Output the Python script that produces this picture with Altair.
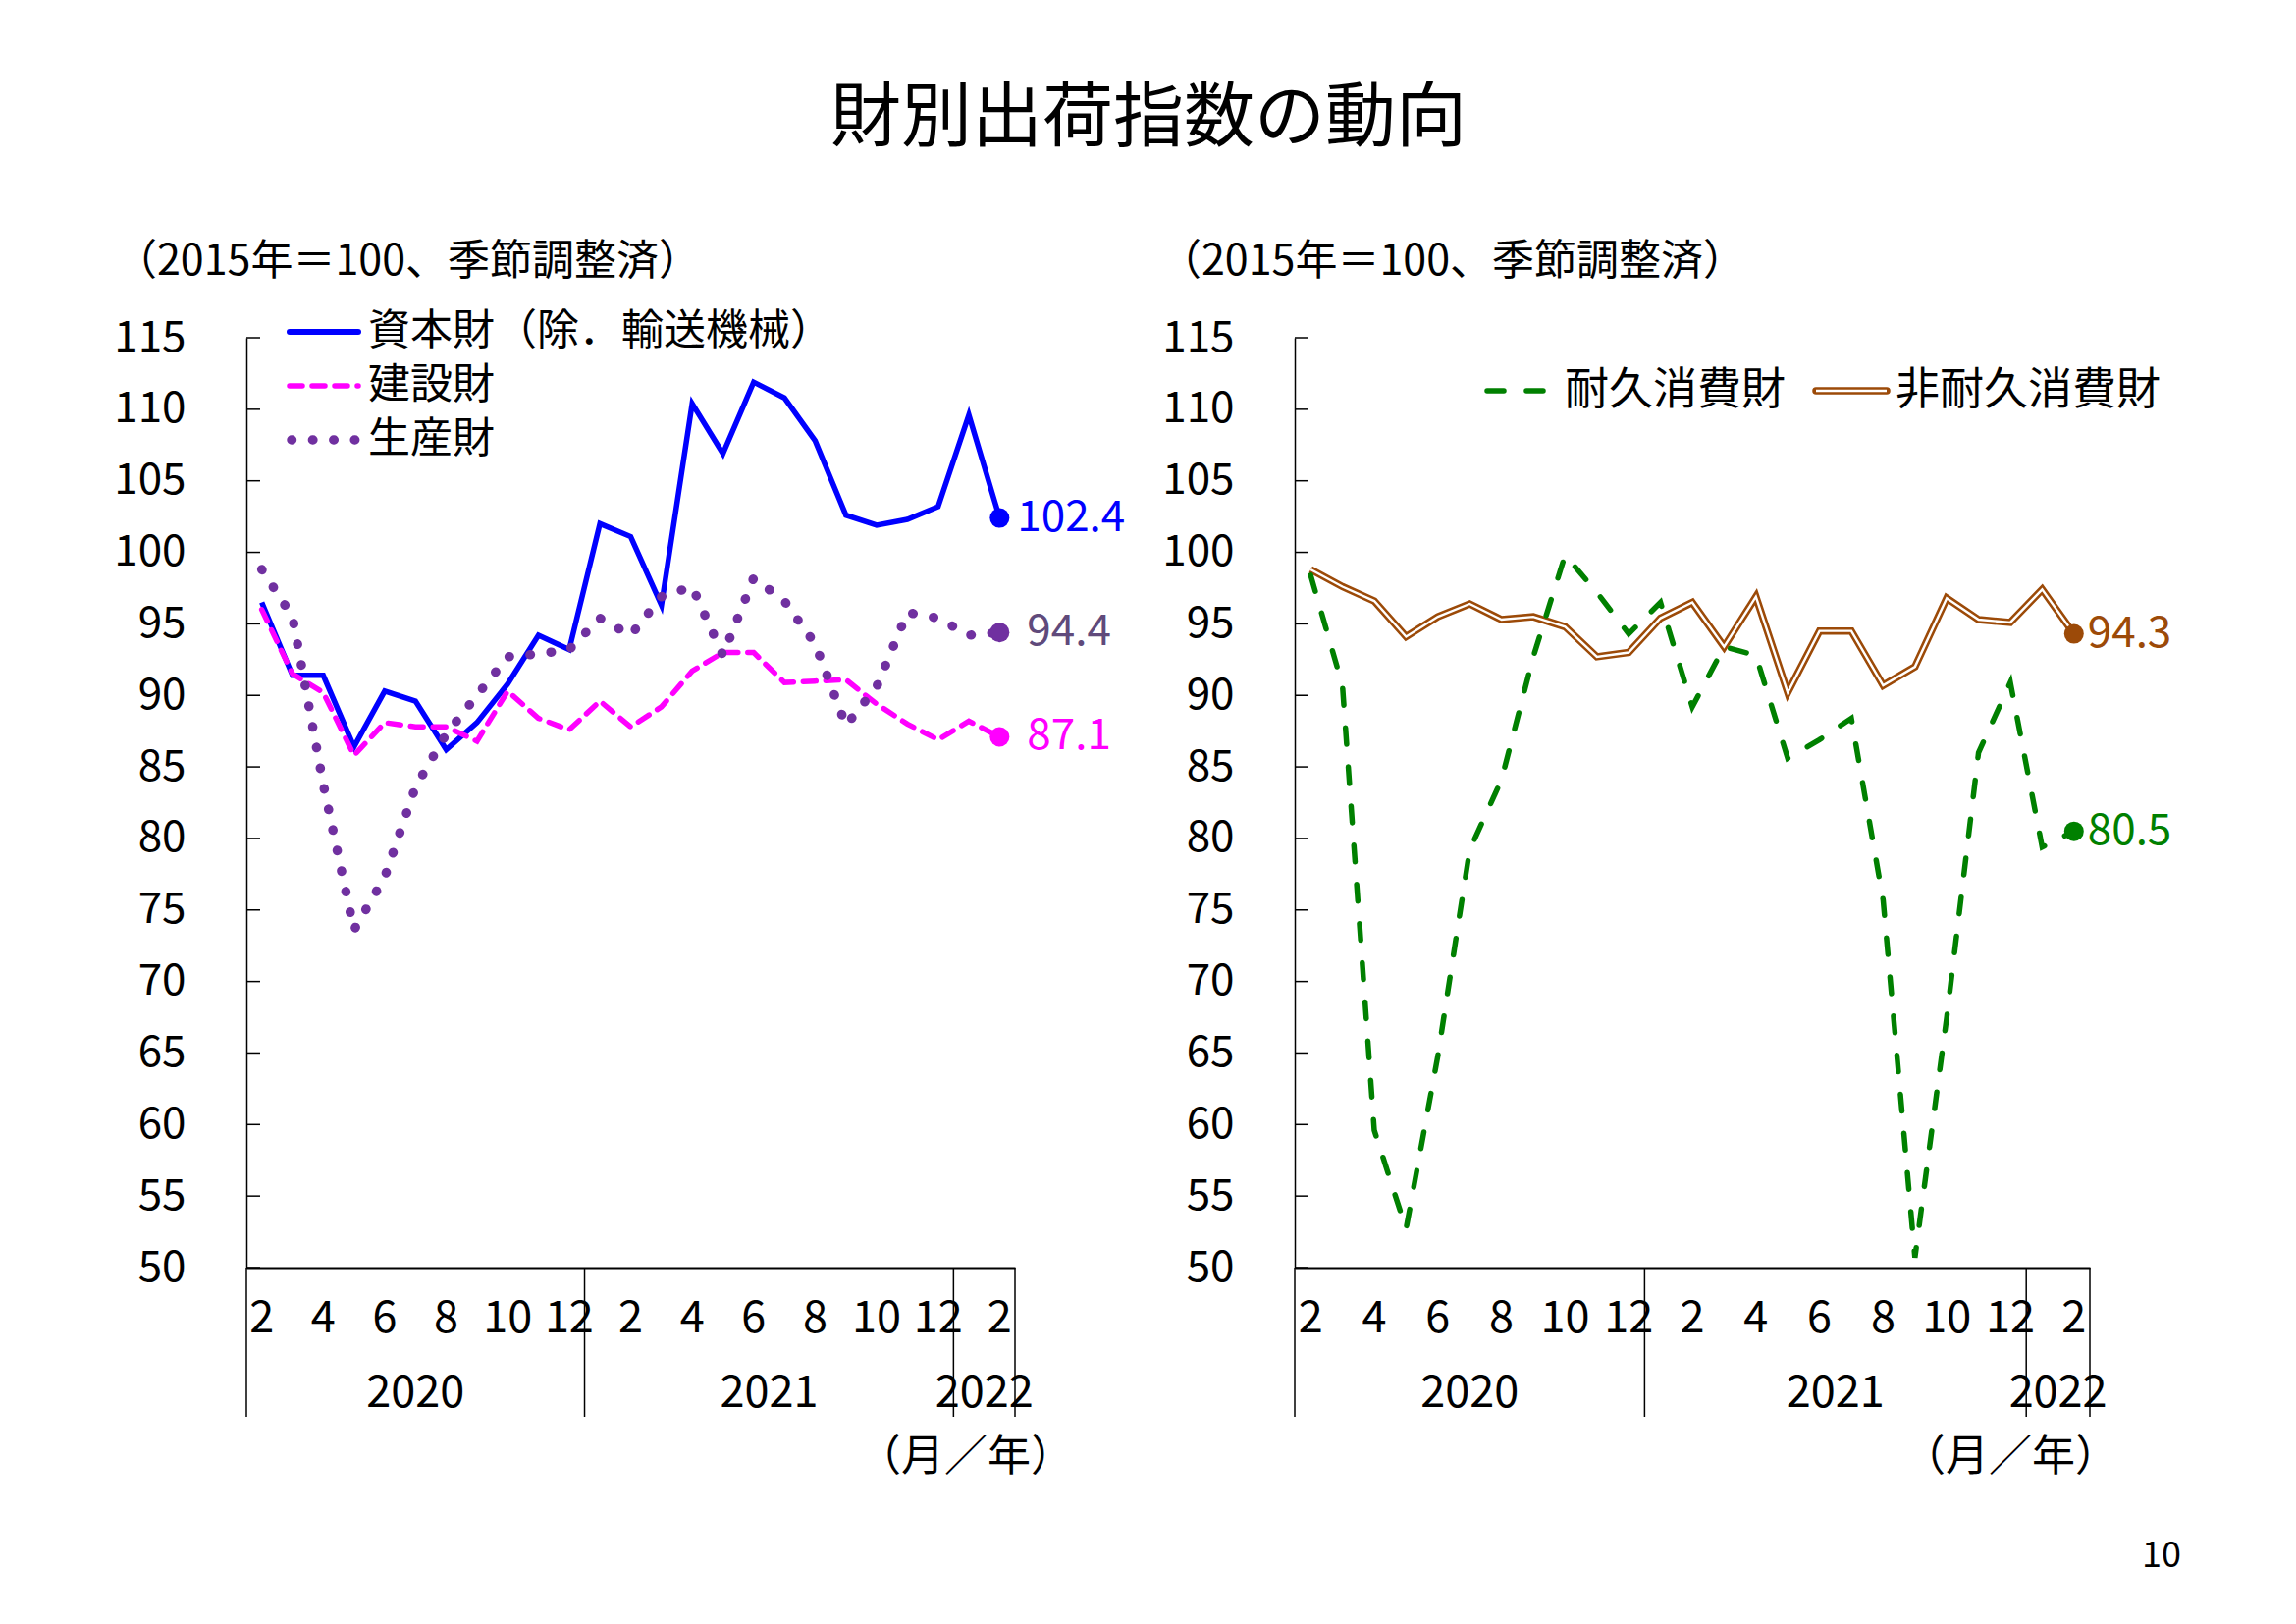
import altair as alt
import pandas as pd

FONT = "Noto Sans CJK JP"

# ---------------- data ----------------
months = [2, 3, 4, 5, 6, 7, 8, 9, 10, 11, 12, 1, 2, 3, 4, 5, 6, 7, 8, 9, 10, 11, 12, 1, 2]
idx = list(range(len(months)))
month_tick_idx = [0, 2, 4, 6, 8, 10, 12, 14, 16, 18, 20, 22, 24]
month_tick_labels = ["2", "4", "6", "8", "10", "12", "2", "4", "6", "8", "10", "12", "2"]
years = ["2020", "2021", "2022"]
year_bounds = [-0.5, 10.5, 22.5, 24.5]
yticks = [50, 55, 60, 65, 70, 75, 80, 85, 90, 95, 100, 105, 110, 115]

capital = [96.5, 91.4, 91.4, 86.4, 90.3, 89.6, 86.2, 88.1, 90.8, 94.2, 93.2, 102.0, 101.1,
           96.3, 110.4, 106.9, 111.9, 110.8, 107.8, 102.6, 101.9, 102.3, 103.2, 109.6, 102.4]
construction = [96.0, 91.5, 90.2, 85.8, 88.1, 87.8, 87.8, 86.8, 90.3, 88.4, 87.6, 89.6, 87.8,
                89.2, 91.7, 93.0, 93.0, 90.9, 91.0, 91.1, 89.4, 88.0, 86.9, 88.2, 87.1]
production = [98.8, 95.5, 83.8, 73.6, 77.3, 83.6, 87.3, 90.0, 92.7, 92.9, 93.2, 95.4, 94.2,
              96.9, 97.6, 92.8, 98.2, 96.6, 93.6, 87.9, 90.6, 95.8, 95.4, 94.2, 94.4]
durable = [98.4, 90.7, 59.6, 52.7, 64.8, 79.2, 84.1, 92.7, 99.8, 97.2, 94.3, 96.5, 89.2,
           93.4, 92.8, 85.6, 86.9, 88.4, 75.7, 50.7, 67.5, 86.0, 90.9, 79.4, 80.5]
nondurable = [98.8, 97.6, 96.6, 94.1, 95.5, 96.4, 95.3, 95.5, 94.8, 92.7, 93.0, 95.4, 96.5,
              93.4, 96.9, 90.2, 94.5, 94.5, 90.7, 92.0, 96.8, 95.3, 95.1, 97.4, 94.3]

title_text = "財別出荷指数の動向"
subtitle_text = "（2015年＝100、季節調整済）"
unit_text = "（月／年）"
legend_left = ["資本財（除．輸送機械）", "建設財", "生産財"]
legend_right = ["耐久消費財", "非耐久消費財"]
page_no = "10"

df = pd.DataFrame({"idx": idx, "month": months, "capital": capital,
                   "construction": construction, "production": production,
                   "durable": durable, "nondurable": nondurable})
last = df.tail(1)
tick_df = pd.DataFrame({"v": yticks})
mlab_df = pd.DataFrame({"idx": month_tick_idx, "lab": month_tick_labels})
sep_df = pd.DataFrame({"pos": year_bounds})
year_df = pd.DataFrame({"year": years,
                        "pos": [(year_bounds[i] + year_bounds[i + 1]) / 2 for i in range(3)]})

# ---------------- layout constants ----------------
W_L, W_R, H, GAP = 783, 810, 947, 285
BLUE, MAG, PURP, PURP_T, BROWN, GREEN = "#0000FF", "#FF00FF", "#7030A0", "#604A7B", "#9C4A08", "#008000"

xs = alt.Scale(domain=[-0.5, 24.5], nice=False, zero=False)
ys = alt.Scale(domain=[50, 115], nice=False, zero=False)
xax = alt.Axis(labels=False, ticks=False, grid=False, title=None,
               domainColor="black", domainWidth=2)
yax = alt.Axis(values=yticks, ticks=False, grid=False, title=None, domainColor="black",
               domainWidth=1.5, labelFontSize=44, labelPadding=62, labelColor="black",
               labelFont=FONT)


def X(f):
    return alt.X(f, type="quantitative", scale=xs, axis=xax)


def Y(f):
    return alt.Y(f, type="quantitative", scale=ys, axis=yax)


def one(text):
    return alt.Chart(pd.DataFrame({"t": [text]}))


def txt(text, x, y, size, align="left", color="black"):
    return one(text).mark_text(font=FONT, fontSize=size, align=align, baseline="middle",
                               color=color).encode(x=alt.value(x), y=alt.value(y), text="t:N")


def line(field, **kw):
    return alt.Chart(df).mark_line(**kw).encode(x=X("idx"), y=Y(field))


def frame_layers():
    ticks = alt.Chart(tick_df).mark_rule(color="black", strokeWidth=1.5).encode(
        y=Y("v"), x=alt.value(0), x2=alt.value(14))
    seps = alt.Chart(sep_df).mark_rule(color="black", strokeWidth=1.5).encode(
        x=X("pos"), y=alt.value(H), y2=alt.value(H + 152))
    mlabs = alt.Chart(mlab_df).mark_text(font=FONT, fontSize=45, baseline="middle",
                                         color="black").encode(
        x=X("idx"), y=alt.value(H + 52), text="lab:N")
    ylabs = alt.Chart(year_df).mark_text(font=FONT, fontSize=45, baseline="middle",
                                         color="black").encode(
        x=X("pos"), y=alt.value(H + 128), text="year:N")
    return [ticks, seps, mlabs, ylabs]


def end_point(field, color):
    return alt.Chart(last).mark_point(filled=True, size=400, opacity=1, color=color).encode(
        x=X("idx"), y=Y(field))


def end_label(field, color, dx):
    return alt.Chart(last).mark_text(font=FONT, fontSize=44, align="left", baseline="middle",
                                     dx=dx, color=color).encode(
        x=X("idx"), y=Y(field), text=alt.Text(f"{field}:Q", format=".1f"))


def leg_rule(x1, x2, y, **kw):
    return one("").mark_rule(**kw).encode(x=alt.value(x1), x2=alt.value(x2), y=alt.value(y))


# ---------------- left panel ----------------
anchor = one("").mark_rule(color="white", strokeWidth=1).encode(
    x=alt.value(-242), x2=alt.value(-241), y=alt.value(-335), y2=alt.value(-334))

left = alt.layer(
    anchor,
    *frame_layers(),
    line("capital", color=BLUE, strokeWidth=5.5),
    line("construction", color=MAG, strokeWidth=5.5, strokeDash=[13, 10], strokeCap="round"),
    line("production", color=PURP, strokeWidth=9.5, strokeDash=[0.5, 20.9], strokeCap="round"),
    end_point("capital", BLUE), end_point("construction", MAG), end_point("production", PURP),
    end_label("capital", BLUE, 18), end_label("construction", MAG, 28),
    end_label("production", PURP_T, 28),
    leg_rule(44, 114, -6, color=BLUE, strokeWidth=6, strokeCap="round"),
    leg_rule(44, 114, 49, color=MAG, strokeWidth=5.5, strokeDash=[13, 10], strokeCap="round"),
    leg_rule(46, 114, 104, color=PURP, strokeWidth=9.5, strokeDash=[0.5, 20.9], strokeCap="round"),
    txt(legend_left[0], 124, -6, 43),
    txt(legend_left[1], 124, 49, 43),
    txt(legend_left[2], 124, 104, 43),
    txt(title_text, 919, -223, 72, align="center"),
    txt(subtitle_text, -134, -77, 43),
    txt(unit_text, 733, H + 194, 44, align="center"),
).properties(width=W_L, height=H)

# ---------------- right panel ----------------
right = alt.layer(
    *frame_layers(),
    line("nondurable", color=BROWN, strokeWidth=7.5),
    line("nondurable", color="white", strokeWidth=2.4),
    line("durable", color=GREEN, strokeWidth=5.5, strokeDash=[17, 23], strokeCap="round"),
    end_point("nondurable", BROWN), end_point("durable", GREEN),
    end_label("nondurable", BROWN, 14), end_label("durable", GREEN, 14),
    leg_rule(196, 256, 54, color=GREEN, strokeWidth=5.5, strokeDash=[17, 23], strokeCap="round"),
    leg_rule(531, 603, 54, color=BROWN, strokeWidth=7.5, strokeCap="round"),
    leg_rule(531, 603, 54, color="white", strokeWidth=2.4),
    txt(legend_right[0], 275, 54, 45),
    txt(legend_right[1], 612, 54, 45),
    txt(subtitle_text, -138, -77, 43),
    txt(unit_text, 729, H + 194, 44, align="center"),
    txt(page_no, 883, 1241, 36, align="center"),
).properties(width=W_R, height=H)

chart = alt.hconcat(left, right, spacing=GAP, bounds="flush").properties(
    padding={"left": 0, "top": 0, "right": 30, "bottom": 30}
).configure_view(stroke=None).configure_axis(labelFont=FONT).configure_text(font=FONT)

chart.save("out.html", embed_options={"renderer": "svg", "actions": False})
